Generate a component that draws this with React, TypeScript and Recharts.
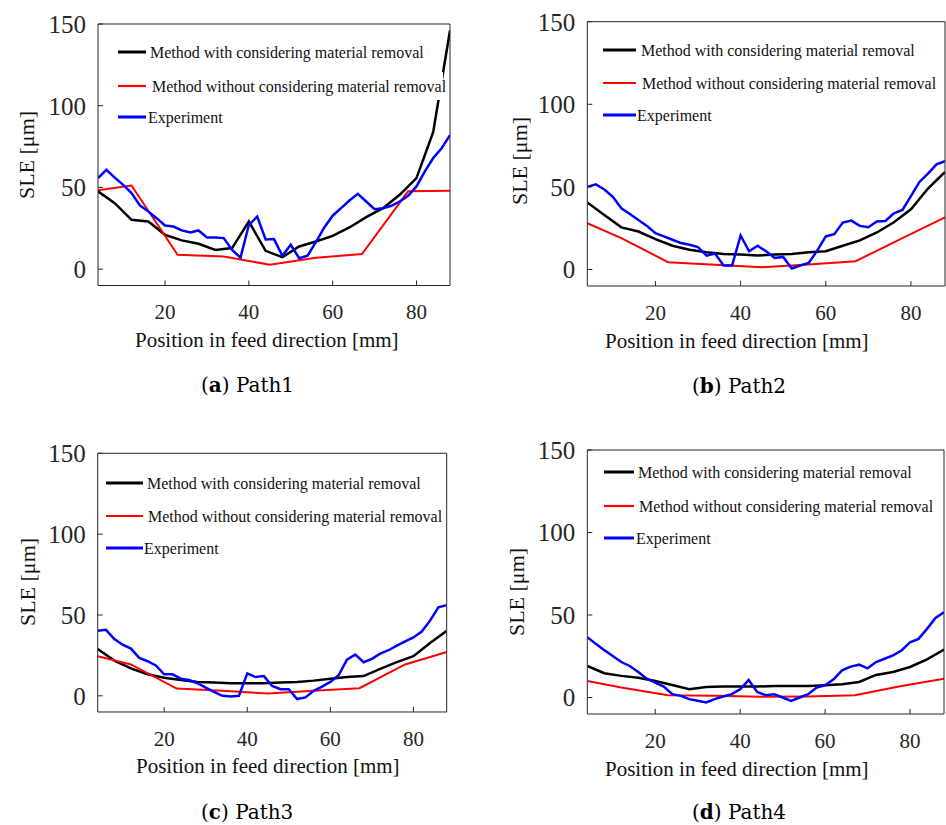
import { LineChart, Line, XAxis, YAxis } from "recharts";

// positions along the feed direction [mm]
const expX = [4, 6, 8, 10, 12, 14, 16, 18, 20, 22, 24, 26, 28, 30, 32, 34, 36, 38, 40, 42, 44, 46, 48, 50, 52, 54, 56, 58, 60, 62, 64, 66, 68, 70, 72, 74, 76, 78, 80, 82, 84, 86, 88];
const modelX = [4, 8, 12, 16, 20, 24, 28, 32, 36, 40, 44, 48, 52, 56, 60, 64, 68, 72, 76, 80, 84, 88];
const simpleX = [4, 12, 23, 34, 45, 56, 67, 78, 88];

const xTicks = [20, 40, 60, 80];
const yTicks = [0, 50, 100, 150];

const legendNames = [
  "Method with considering material removal",
  "Method without considering material removal",
  "Experiment",
];

// Path1
const path1With = [47.6, 40.4, 30.2, 29.2, 21, 17.6, 15.5, 11.8, 12.9, 29.2, 11.2, 7.3, 13.9, 16.9, 20.4, 25.5, 31.8, 37.3, 45.5, 55.7, 84, 146];
const path1Without = [48.2, 51.2, 8.8, 7.8, 2.7, 7, 9.2, 47.6, 48];
const path1Exp = [55.7, 60.8, 56, 51.6, 46.5, 39, 35.3, 31.2, 26.7, 26.1, 23.7, 22.4, 23.7, 19.4, 19.4, 19, 11.8, 7, 27, 32.2, 18.2, 18.4, 8.2, 14.9, 6.7, 8.2, 16.5, 25.5, 32.7, 37.3, 42, 46.1, 41.4, 36.7, 37.3, 38.8, 41.4, 44.9, 50.6, 59.8, 68, 74, 82];

// Path2
const path2With = [40.6, 33, 25.5, 23, 18.4, 14.4, 12, 10.4, 9.4, 9, 8.4, 9, 9.4, 10.4, 11, 14.4, 17.6, 22.4, 28.6, 36.4, 49, 59];
const path2Without = [28, 19, 4.4, 2.8, 1.4, 3, 5, 19, 31.6];
const path2Exp = [50, 51.6, 48.4, 44, 37, 33.6, 30, 26.4, 22, 20, 18, 16, 15, 13.6, 8.4, 9.6, 2.4, 2.4, 20.6, 11, 14.4, 11, 7, 7.6, 0.6, 2.4, 4, 11.4, 20, 21.4, 28.4, 29.6, 26.4, 25.6, 29, 29.4, 34, 36, 44.4, 53, 58, 63.6, 65.6];

// Path3
const path3With = [29, 21.8, 17, 13.3, 11.2, 9.8, 8.6, 8.2, 7.8, 7.8, 7.8, 8.2, 8.6, 9.4, 10.6, 11.6, 12.2, 16.7, 20.8, 24.5, 32.7, 40.2];
const path3Without = [24.5, 19.4, 4.5, 3.1, 1.4, 3.1, 4.7, 19.4, 27.1];
const path3Exp = [40.2, 40.8, 35.1, 31.6, 29.2, 23.5, 21.4, 18.8, 13.3, 13.3, 10.6, 9.8, 7.8, 5.1, 2.4, 0, -0.4, 0, 13.9, 11.6, 12.2, 6.1, 4.1, 4.1, -2, -1, 3.1, 5.7, 8.6, 12.7, 22.4, 25.5, 20.8, 22.9, 26.1, 28.2, 31, 33.7, 36.1, 39.8, 46.5, 54.7, 56.1];

// Path4
const path4With = [19.1, 14.7, 13.1, 12, 10, 7.6, 5, 6.4, 6.6, 6.6, 6.6, 7, 7, 7, 7.4, 8, 9.4, 13.7, 15.5, 18.5, 23.1, 29.1];
const path4Without = [10, 6, 1.4, 1, 0.4, 0.6, 1.4, 7, 11.4];
const path4Exp = [36.5, 32.5, 28.7, 25.1, 21.5, 19.1, 15.5, 11.4, 9, 6.6, 2, 1, -1, -2, -3, -1, 0.6, 2, 5, 10.6, 3.4, 1.4, 2, 0, -2, 0, 2, 6, 7.4, 11, 16.5, 18.7, 19.9, 17.7, 21.5, 23.5, 25.5, 28.5, 33.5, 35.5, 41.6, 48.2, 51.6];

const serif = "'Liberation Serif', 'Times New Roman', serif";
const axisColor = "#262626";

const toPts = (xs: number[], vs: number[]) => xs.map((x, i) => ({ x, v: vs[i] }));

type PanelCfg = {
  letter: string;
  name: string;
  withMR: number[];
  withoutMR: number[];
  exp: number[];
  ox: number; oy: number;            // chart origin on the page
  left: number; top: number; right: number; bottom: number; // plot box
  yLabel: [number, number];
  titleX: number; titleY: number;
  capX: number; capY: number;
  legLine: [number, number];
  legRows: number[];
  legText: number[];
};

const panels: PanelCfg[] = [
  {
    letter: "a", name: "Path1", withMR: path1With, withoutMR: path1Without, exp: path1Exp,
    ox: 0, oy: 0, left: 98, top: 24, right: 450, bottom: 285.5,
    yLabel: [26, 155], titleX: 135, titleY: 347, capX: 201, capY: 392,
    legLine: [118, 146], legRows: [52, 86, 117], legText: [150, 152, 148],
  },
  {
    letter: "b", name: "Path2", withMR: path2With, withoutMR: path2Without, exp: path2Exp,
    ox: 470, oy: 0, left: 587.3, top: 21.7, right: 945, bottom: 286,
    yLabel: [519.5, 161], titleX: 605, titleY: 348, capX: 692, capY: 393,
    legLine: [603, 636], legRows: [50, 83, 115], legText: [641, 642, 637],
  },
  {
    letter: "c", name: "Path3", withMR: path3With, withoutMR: path3Without, exp: path3Exp,
    ox: 0, oy: 430, left: 97.7, top: 453.3, right: 446.7, bottom: 712,
    yLabel: [27, 582], titleX: 136, titleY: 773, capX: 201, capY: 818.5,
    legLine: [106, 143], legRows: [483, 516, 548], legText: [147, 148, 144],
  },
  {
    letter: "d", name: "Path4", withMR: path4With, withoutMR: path4Without, exp: path4Exp,
    ox: 470, oy: 430, left: 587.3, top: 450, right: 944, bottom: 714,
    yLabel: [516, 592], titleX: 605, titleY: 776, capX: 692, capY: 819,
    legLine: [604, 634], legRows: [472, 506, 538], legText: [638, 639, 636],
  },
];

const seriesColors = ["#000000", "#ff0000", "#0000ff"];
const seriesWidths = [2.5, 2, 2.5];
// white backing behind legend labels (hides the line where it runs under the text)
const legBoxW = [272, 292, 78];

const Panel = ({ p }: { p: PanelCfg }) => {
  const padR = 946 - p.right > 3 ? 3 : 1;
  const w = p.right - p.ox + padR;
  const h = p.bottom - p.oy + 50;
  return (
    <div style={{ position: "absolute", left: p.ox, top: p.oy }}>
      <LineChart width={w} height={h} margin={{ top: p.top - p.oy, right: padR, left: 0, bottom: 0 }}>
        <XAxis
          type="number" dataKey="x" domain={[4, 88]} ticks={xTicks} allowDataOverflow
          height={50} tickSize={-5} tickMargin={24} stroke={axisColor}
          tick={{ fill: axisColor, fontSize: 21, fontFamily: serif }}
        />
        <XAxis
          xAxisId="top" orientation="top" mirror type="number" dataKey="x"
          domain={[4, 88]} ticks={xTicks} allowDataOverflow tick={false} tickSize={5} stroke={axisColor}
        />
        <YAxis
          type="number" domain={[-10, 150]} ticks={yTicks} allowDataOverflow
          width={p.left - p.ox} tickSize={-5} tickMargin={17} stroke={axisColor}
          tick={{ fill: axisColor, fontSize: 25, fontFamily: serif }}
        />
        <YAxis
          yAxisId="right" orientation="right" mirror type="number" domain={[-10, 150]}
          ticks={yTicks} allowDataOverflow tick={false} tickSize={5} stroke={axisColor}
        />
        <Line data={toPts(modelX, p.withMR)} dataKey="v" type="linear" stroke={seriesColors[0]} strokeWidth={seriesWidths[0]} dot={false} isAnimationActive={false} />
        <Line data={toPts(simpleX, p.withoutMR)} dataKey="v" type="linear" stroke={seriesColors[1]} strokeWidth={seriesWidths[1]} dot={false} isAnimationActive={false} />
        <Line data={toPts(expX, p.exp)} dataKey="v" type="linear" stroke={seriesColors[2]} strokeWidth={seriesWidths[2]} dot={false} isAnimationActive={false} />
      </LineChart>
    </div>
  );
};

const Texts = ({ p }: { p: PanelCfg }) => (
  <g>
    <text
      transform={`translate(${p.yLabel[0]}, ${p.yLabel[1]}) rotate(-90)`}
      textAnchor="middle" dominantBaseline="central"
      fontFamily={serif} fontSize={22} fill="#111"
    >
      SLE [μm]
    </text>
    <text x={p.titleX} y={p.titleY} fontFamily={serif} fontSize={21} fill="#111">
      Position in feed direction [mm]
    </text>
    <text x={p.capX} y={p.capY} fontFamily="'DejaVu Serif', serif" fontSize={20} fill="#000">
      (<tspan fontWeight="bold">{p.letter}</tspan>) {p.name}
    </text>
    {legendNames.map((n, i) => (
      <g key={n}>
        <rect x={p.legText[i] - 1} y={p.legRows[i] - 14} width={legBoxW[i]} height={28} fill="#fff" />
        <line x1={p.legLine[0]} x2={p.legLine[1]} y1={p.legRows[i]} y2={p.legRows[i]} stroke={seriesColors[i]} strokeWidth={i === 1 ? 2.2 : 3} />
        <text x={p.legText[i]} y={p.legRows[i] + 5.5} fontFamily={serif} fontSize={16} fill="#111">
          {n}
        </text>
      </g>
    ))}
  </g>
);

export default function App() {
  return (
    <div style={{ position: "absolute", left: 0, top: 0, width: 946, height: 825, overflow: "hidden", background: "#fff" }}>
      {panels.map((p) => (
        <Panel key={p.letter} p={p} />
      ))}
      <svg width={946} height={825} style={{ position: "absolute", left: 0, top: 0, pointerEvents: "none" }}>
        {panels.map((p) => (
          <Texts key={p.letter} p={p} />
        ))}
      </svg>
    </div>
  );
}
